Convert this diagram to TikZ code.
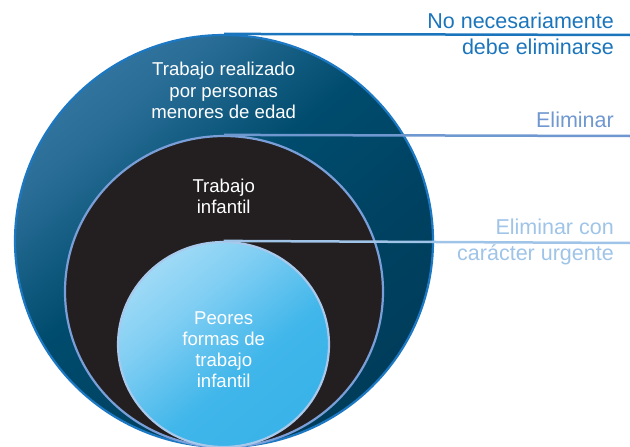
\documentclass[tikz,border=0pt]{standalone}
\usepackage{fontspec}
\setmainfont{Liberation Sans}
\usetikzlibrary{shapes.geometric}
\definecolor{outerborder}{HTML}{1C78C2}
\definecolor{midfill}{HTML}{231F20}
\definecolor{midborder}{HTML}{7A9FD8}
\definecolor{innerborder}{HTML}{A8C9EC}
\definecolor{labone}{HTML}{1B75BC}
\definecolor{labtwo}{HTML}{6F98D0}
\definecolor{labthree}{HTML}{9FC4E8}
\pgfdeclareverticalshading{outershade}{100bp}{%
  color(0bp)=(rgb,255:red,0;green,52;blue,79);
  color(40bp)=(rgb,255:red,0;green,66;blue,98);
  color(55bp)=(rgb,255:red,0;green,76;blue,110);
  color(70bp)=(rgb,255:red,42;green,110;blue,152);
  color(100bp)=(rgb,255:red,80;green,140;blue,184)}
\pgfdeclareverticalshading{innershade}{100bp}{%
  color(0bp)=(rgb,255:red,46;green,174;blue,230);
  color(42bp)=(rgb,255:red,64;green,182;blue,234);
  color(62bp)=(rgb,255:red,128;green,206;blue,243);
  color(100bp)=(rgb,255:red,218;green,241;blue,252)}
\tikzset{
  ring/.style={ellipse, inner sep=0pt, line width=2.2pt},
  whitelab/.style={anchor=base, text=white, font=\fontsize{18.6}{21}\selectfont, inner sep=0pt},
  sidelab/.style={anchor=base east, font=\fontsize{21.5}{25}\selectfont, inner sep=0pt},
  leader/.style={line width=2.5pt}
}
\begin{document}
\begin{tikzpicture}[x=1pt,y=-1pt]
\useasboundingbox (0,0) rectangle (630,447);
\node[ring, draw=outerborder, shading=outershade, shading angle=40,
      minimum width=418pt, minimum height=412pt] (outer) at (224,241) {};
\node[ring, draw=midborder, fill=midfill, minimum width=318pt, minimum height=311pt] (mid) at (224,291.5) {};
\node[ring, draw=innerborder, shading=innershade, shading angle=40,
      minimum width=211pt, minimum height=205pt] (inner) at (223.5,344.5) {};
\coordinate (e1) at (630,35);
\coordinate (e2) at (630,136);
\coordinate (e3) at (630,243);
\draw[leader, draw=labone] (outer.north) -- (e1);
\draw[leader, draw=labtwo] (mid.north) -- (e2);
\draw[leader, draw=labthree] (inner.north) -- (e3);
\node[sidelab, text=labone] (l1a) at (614,28.3) {No necesariamente};
\node[sidelab, text=labone] (l1b) at (614,54) {debe eliminarse};
\node[sidelab, text=labtwo] (l2) at (614,127.7) {Eliminar};
\node[sidelab, text=labthree] (l3a) at (614,234.3) {Eliminar con};
\node[sidelab, text=labthree] (l3b) at (614,260) {carácter urgente};
\node[whitelab] (t1a) at (223.7,75.7) {Trabajo realizado};
\node[whitelab] (t1b) at (223.7,97) {por personas};
\node[whitelab] (t1c) at (223.7,118.3) {menores de edad};
\node[whitelab] (t2a) at (223.7,192.7) {Trabajo};
\node[whitelab] (t2b) at (223.7,213.5) {infantil};
\node[whitelab] (t3a) at (223.7,324.3) {Peores};
\node[whitelab] (t3b) at (223.7,345.3) {formas de};
\node[whitelab] (t3c) at (223.7,366.3) {trabajo};
\node[whitelab] (t3d) at (223.7,387.3) {infantil};
\end{tikzpicture}
\end{document}
